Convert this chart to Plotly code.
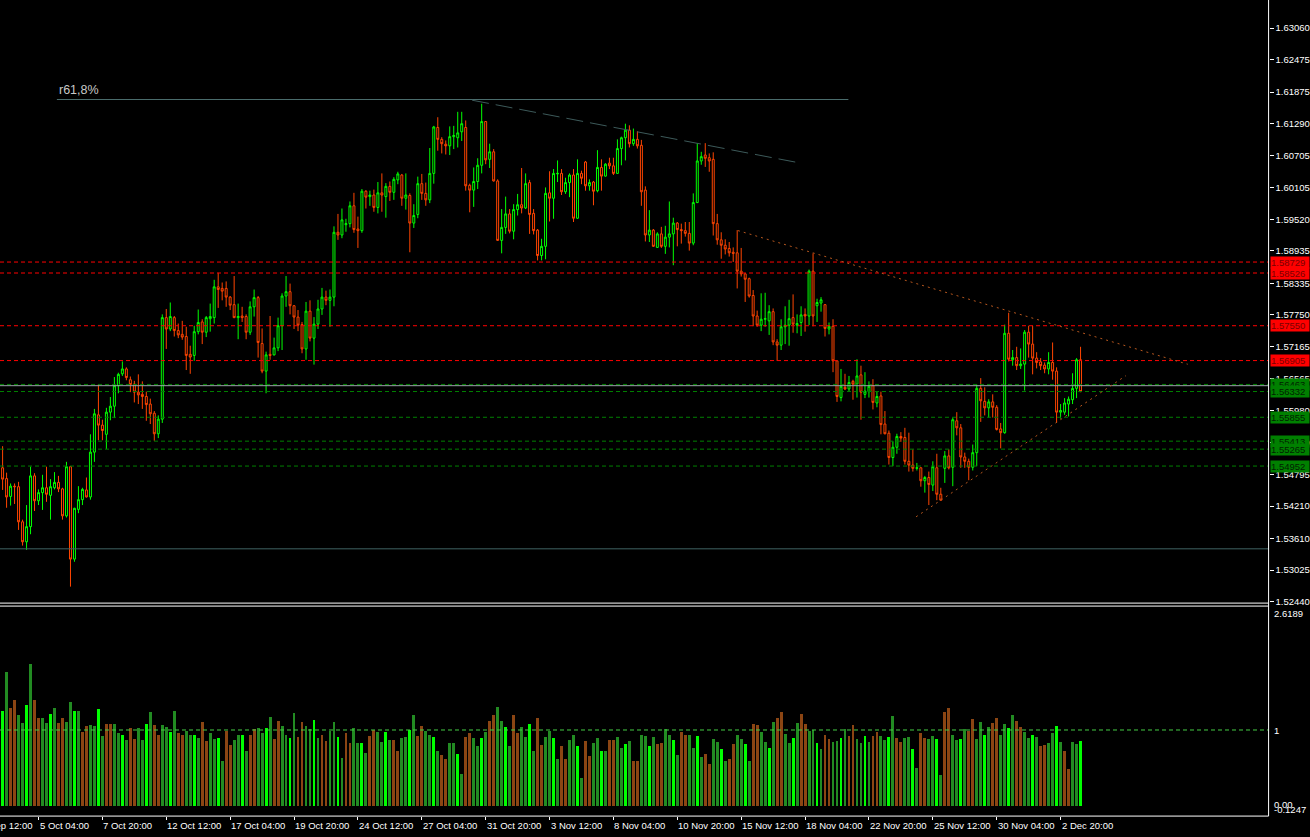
import plotly.graph_objects as go

# ---- H4 candles (index 0 = first bar at the left edge) ----
opens = [
    1.5492, 1.5472, 1.5439, 1.5458, 1.5457, 1.5392, 1.5355, 1.5383, 1.5477, 1.5431,
    1.5446, 1.5455, 1.5441, 1.5455, 1.5465, 1.5453, 1.5403, 1.5494, 1.5323, 1.5415,
    1.5433, 1.5451, 1.5438, 1.5521, 1.5590, 1.5571, 1.5554, 1.5595, 1.5606, 1.5644,
    1.5666, 1.5675, 1.5655, 1.5647, 1.5632, 1.5628, 1.5624, 1.5610, 1.5593, 1.5555,
    1.5582, 1.5770, 1.5749, 1.5770, 1.5746, 1.5739, 1.5735, 1.5702, 1.5700, 1.5744,
    1.5762, 1.5743, 1.5768, 1.5770, 1.5827, 1.5824, 1.5824, 1.5808, 1.5794, 1.5770,
    1.5773, 1.5772, 1.5743, 1.5790, 1.5807, 1.5722, 1.5671, 1.5702, 1.5701, 1.5714,
    1.5755, 1.5810, 1.5818, 1.5792, 1.5771, 1.5757, 1.5712, 1.5782, 1.5732, 1.5758,
    1.5786, 1.5808, 1.5802, 1.5808, 1.5928, 1.5923, 1.5942, 1.5944, 1.5977, 1.5934,
    1.5931, 1.6004, 1.5994, 1.5997, 1.5974, 1.6001, 1.5994, 1.6013, 1.6002, 1.6025,
    1.6034, 1.5991, 1.5996, 1.5945, 1.5961, 1.6018, 1.6000, 1.5988, 1.6037, 1.6122,
    1.6100, 1.6091, 1.6088, 1.6105, 1.6103, 1.6114, 1.6122, 1.6015, 1.6006, 1.6022,
    1.6052, 1.6133, 1.6063, 1.6077, 1.6023, 1.5913, 1.5937, 1.5962, 1.5930, 1.5970,
    1.5979, 1.5973, 1.6020, 1.5963, 1.5932, 1.5885, 1.5902, 1.6001, 1.5991, 1.6036,
    1.6037, 1.6003, 1.6020, 1.6034, 1.5954, 1.6037, 1.6058, 1.6014, 1.6021, 1.6005,
    1.6048, 1.6032, 1.6056, 1.6051, 1.6037, 1.6083, 1.6103, 1.6117, 1.6092, 1.6100,
    1.6089, 1.6006, 1.5923, 1.5932, 1.5900, 1.5925, 1.5902, 1.5919, 1.5925, 1.5945,
    1.5933, 1.5931, 1.5926, 1.5908, 1.5983, 1.6060, 1.6071, 1.6066, 1.6063, 1.5944,
    1.5914, 1.5904, 1.5898, 1.5891, 1.5890, 1.5856, 1.5851, 1.5842, 1.5811, 1.5773,
    1.5756, 1.5767, 1.5764, 1.5781, 1.5725, 1.5719, 1.5753, 1.5756, 1.5770, 1.5756,
    1.5761, 1.5776, 1.5773, 1.5856, 1.5792, 1.5797, 1.5794, 1.5749, 1.5754, 1.5690,
    1.5622, 1.5641, 1.5638, 1.5652, 1.5647, 1.5664, 1.5628, 1.5633, 1.5644, 1.5612,
    1.5625, 1.5573, 1.5556, 1.5511, 1.5530, 1.5550, 1.5548, 1.5504, 1.5497, 1.5491,
    1.5492, 1.5468, 1.5474, 1.5460, 1.5492, 1.5443, 1.5491, 1.5514, 1.5493, 1.5579,
    1.5566, 1.5512, 1.5504, 1.5493, 1.5520, 1.5639, 1.5615, 1.5603, 1.5614, 1.5604,
    1.5564, 1.5557, 1.5741, 1.5692, 1.5696, 1.5681, 1.5684, 1.5743, 1.5721, 1.5695,
    1.5688, 1.5682, 1.5675, 1.5687, 1.5671, 1.5595, 1.5595, 1.5610, 1.5618, 1.5639,
    1.5692,
]
highs = [
    1.5532, 1.5483, 1.5463, 1.5463, 1.5466, 1.5396, 1.5423, 1.5494, 1.5482, 1.5452,
    1.5479, 1.5494, 1.5471, 1.5484, 1.5477, 1.5455, 1.5503, 1.5495, 1.5418, 1.5458,
    1.5455, 1.5474, 1.5554, 1.5601, 1.5647, 1.5581, 1.5603, 1.5623, 1.5660, 1.5668,
    1.5689, 1.5678, 1.5661, 1.5653, 1.5665, 1.5652, 1.5633, 1.5620, 1.5597, 1.5589,
    1.5776, 1.5786, 1.5798, 1.5773, 1.5759, 1.5764, 1.5753, 1.5718, 1.5755, 1.5785,
    1.5767, 1.5773, 1.5796, 1.5840, 1.5853, 1.5835, 1.5837, 1.5810, 1.5847, 1.5796,
    1.5790, 1.5776, 1.5800, 1.5822, 1.5810, 1.5750, 1.5707, 1.5773, 1.5733, 1.5770,
    1.5815, 1.5847, 1.5833, 1.5793, 1.5784, 1.5762, 1.5799, 1.5802, 1.5771, 1.5803,
    1.5825, 1.5820, 1.5822, 1.5939, 1.5962, 1.5972, 1.5953, 1.5985, 1.6001, 1.5957,
    1.6008, 1.6006, 1.6005, 1.6007, 1.6021, 1.6037, 1.6019, 1.6022, 1.6030, 1.6040,
    1.6036, 1.6037, 1.6000, 1.5980, 1.6031, 1.6036, 1.6020, 1.6084, 1.6125, 1.6141,
    1.6104, 1.6098, 1.6124, 1.6125, 1.6151, 1.6151, 1.6135, 1.6018, 1.6048, 1.6065,
    1.6166, 1.6134, 1.6092, 1.6082, 1.6026, 1.5971, 1.5994, 1.5971, 1.5980, 1.5999,
    1.6047, 1.6037, 1.6025, 1.5971, 1.5934, 1.5916, 1.6011, 1.6041, 1.6045, 1.6061,
    1.6045, 1.6029, 1.6037, 1.6045, 1.6063, 1.6042, 1.6060, 1.6026, 1.6023, 1.6080,
    1.6063, 1.6056, 1.6066, 1.6066, 1.6100, 1.6105, 1.6129, 1.6126, 1.6120, 1.6115,
    1.6099, 1.6013, 1.5969, 1.5934, 1.5928, 1.5938, 1.5940, 1.5985, 1.5955, 1.5947,
    1.5944, 1.5947, 1.5947, 1.6000, 1.6093, 1.6077, 1.6093, 1.6074, 1.6076, 1.5962,
    1.5928, 1.5915, 1.5910, 1.5900, 1.5932, 1.5899, 1.5852, 1.5844, 1.5821, 1.5783,
    1.5815, 1.5816, 1.5793, 1.5787, 1.5730, 1.5767, 1.5791, 1.5803, 1.5813, 1.5776,
    1.5791, 1.5787, 1.5859, 1.5889, 1.5805, 1.5808, 1.5794, 1.5761, 1.5767, 1.5690,
    1.5675, 1.5666, 1.5662, 1.5655, 1.5693, 1.5681, 1.5669, 1.5652, 1.5656, 1.5633,
    1.5633, 1.5597, 1.5561, 1.5541, 1.5555, 1.5558, 1.5566, 1.5557, 1.5526, 1.5501,
    1.5493, 1.5477, 1.5485, 1.5504, 1.5518, 1.5455, 1.5523, 1.5526, 1.5585, 1.5595,
    1.5573, 1.5520, 1.5509, 1.5535, 1.5646, 1.5658, 1.5641, 1.5619, 1.5628, 1.5608,
    1.5575, 1.5757, 1.5779, 1.5710, 1.5716, 1.5713, 1.5747, 1.5755, 1.5755, 1.5706,
    1.5695, 1.5687, 1.5706, 1.5724, 1.5678, 1.5610, 1.5621, 1.5624, 1.5667, 1.5695,
    1.5716,
]
lows = [
    1.5451, 1.5418, 1.5422, 1.5425, 1.5377, 1.5348, 1.5340, 1.5369, 1.5412, 1.5423,
    1.5414, 1.5429, 1.5396, 1.5452, 1.5447, 1.5396, 1.5400, 1.5272, 1.5318, 1.5408,
    1.5423, 1.5437, 1.5433, 1.5503, 1.5543, 1.5543, 1.5527, 1.5580, 1.5584, 1.5630,
    1.5662, 1.5654, 1.5632, 1.5613, 1.5610, 1.5601, 1.5579, 1.5573, 1.5542, 1.5547,
    1.5575, 1.5712, 1.5745, 1.5735, 1.5732, 1.5729, 1.5673, 1.5666, 1.5690, 1.5739,
    1.5721, 1.5734, 1.5744, 1.5759, 1.5788, 1.5802, 1.5790, 1.5784, 1.5769, 1.5730,
    1.5762, 1.5730, 1.5738, 1.5772, 1.5696, 1.5667, 1.5630, 1.5692, 1.5700, 1.5708,
    1.5710, 1.5790, 1.5776, 1.5749, 1.5745, 1.5704, 1.5692, 1.5726, 1.5683, 1.5749,
    1.5775, 1.5793, 1.5753, 1.5791, 1.5914, 1.5917, 1.5929, 1.5937, 1.5927, 1.5899,
    1.5927, 1.5972, 1.5977, 1.5966, 1.5963, 1.5966, 1.5955, 1.5986, 1.5988, 1.6017,
    1.5977, 1.5970, 1.5891, 1.5936, 1.5954, 1.5988, 1.5977, 1.5982, 1.6018, 1.6079,
    1.6074, 1.6072, 1.6071, 1.6082, 1.6085, 1.6097, 1.6005, 1.5965, 1.5975, 1.6008,
    1.6037, 1.6054, 1.6047, 1.6022, 1.5912, 1.5889, 1.5925, 1.5926, 1.5915, 1.5959,
    1.5963, 1.5971, 1.5925, 1.5924, 1.5876, 1.5876, 1.5878, 1.5948, 1.5953, 1.6021,
    1.5997, 1.5999, 1.5993, 1.5947, 1.5953, 1.6017, 1.6005, 1.6005, 1.5978, 1.6002,
    1.6005, 1.6031, 1.6045, 1.6034, 1.6036, 1.6052, 1.6061, 1.6085, 1.6088, 1.6083,
    1.5977, 1.5911, 1.5910, 1.5901, 1.5899, 1.5899, 1.5888, 1.5900, 1.5867, 1.5902,
    1.5907, 1.5920, 1.5894, 1.5904, 1.5982, 1.6053, 1.6049, 1.6040, 1.5922, 1.5905,
    1.5879, 1.5887, 1.5883, 1.5873, 1.5824, 1.5846, 1.5799, 1.5807, 1.5754, 1.5753,
    1.5745, 1.5753, 1.5738, 1.5719, 1.5690, 1.5710, 1.5721, 1.5718, 1.5742, 1.5741,
    1.5736, 1.5744, 1.5756, 1.5754, 1.5762, 1.5781, 1.5735, 1.5739, 1.5669, 1.5614,
    1.5615, 1.5636, 1.5634, 1.5618, 1.5622, 1.5581, 1.5621, 1.5622, 1.5600, 1.5604,
    1.5554, 1.5554, 1.5498, 1.5495, 1.5518, 1.5540, 1.5498, 1.5485, 1.5485, 1.5487,
    1.5457, 1.5446, 1.5423, 1.5449, 1.5432, 1.5431, 1.5464, 1.5489, 1.5458, 1.5552,
    1.5492, 1.5492, 1.5469, 1.5487, 1.5495, 1.5577, 1.5589, 1.5585, 1.5585, 1.5561,
    1.5528, 1.5555, 1.5689, 1.5681, 1.5673, 1.5675, 1.5635, 1.5696, 1.5665, 1.5676,
    1.5673, 1.5667, 1.5665, 1.5655, 1.5575, 1.5583, 1.5590, 1.5587, 1.5610, 1.5621,
    1.5632,
]
closes = [
    1.5471, 1.5438, 1.5458, 1.5457, 1.5392, 1.5355, 1.5383, 1.5477, 1.5431, 1.5446,
    1.5455, 1.5443, 1.5457, 1.5465, 1.5453, 1.5403, 1.5494, 1.5323, 1.5417, 1.5433,
    1.5452, 1.5438, 1.5521, 1.5592, 1.5571, 1.5561, 1.5595, 1.5606, 1.5644, 1.5665,
    1.5675, 1.5659, 1.5646, 1.5632, 1.5627, 1.5624, 1.5609, 1.5592, 1.5555, 1.5582,
    1.5770, 1.5749, 1.5772, 1.5746, 1.5738, 1.5734, 1.5700, 1.5697, 1.5744, 1.5761,
    1.5743, 1.5770, 1.5772, 1.5827, 1.5822, 1.5819, 1.5808, 1.5793, 1.5770, 1.5772,
    1.5770, 1.5743, 1.5790, 1.5807, 1.5724, 1.5671, 1.5701, 1.5700, 1.5714, 1.5755,
    1.5810, 1.5818, 1.5792, 1.5771, 1.5756, 1.5712, 1.5782, 1.5732, 1.5758, 1.5786,
    1.5808, 1.5802, 1.5808, 1.5928, 1.5923, 1.5951, 1.5944, 1.5977, 1.5933, 1.5931,
    1.6004, 1.5993, 1.5997, 1.5974, 1.6001, 1.5997, 1.6013, 1.6002, 1.6026, 1.6036,
    1.5991, 1.5997, 1.5945, 1.5959, 1.6018, 1.6000, 1.5988, 1.6037, 1.6123, 1.6100,
    1.6092, 1.6088, 1.6105, 1.6107, 1.6112, 1.6129, 1.6014, 1.6006, 1.6022, 1.6052,
    1.6133, 1.6062, 1.6077, 1.6023, 1.5913, 1.5937, 1.5962, 1.5930, 1.5970, 1.5979,
    1.5973, 1.6018, 1.5961, 1.5931, 1.5885, 1.5902, 1.6000, 1.5991, 1.6037, 1.6037,
    1.6003, 1.6020, 1.6034, 1.5954, 1.6037, 1.6028, 1.6014, 1.6020, 1.6004, 1.6048,
    1.6032, 1.6054, 1.6051, 1.6037, 1.6083, 1.6103, 1.6117, 1.6092, 1.6100, 1.6088,
    1.6003, 1.5923, 1.5932, 1.5902, 1.5925, 1.5902, 1.5919, 1.5925, 1.5945, 1.5933,
    1.5931, 1.5926, 1.5908, 1.5983, 1.6060, 1.6068, 1.6065, 1.6060, 1.5944, 1.5914,
    1.5904, 1.5897, 1.5890, 1.5889, 1.5856, 1.5851, 1.5841, 1.5810, 1.5773, 1.5756,
    1.5767, 1.5768, 1.5781, 1.5725, 1.5719, 1.5753, 1.5756, 1.5768, 1.5758, 1.5759,
    1.5775, 1.5773, 1.5856, 1.5773, 1.5798, 1.5803, 1.5750, 1.5754, 1.5690, 1.5624,
    1.5643, 1.5638, 1.5650, 1.5647, 1.5662, 1.5632, 1.5634, 1.5643, 1.5613, 1.5624,
    1.5572, 1.5555, 1.5511, 1.5530, 1.5550, 1.5547, 1.5504, 1.5497, 1.5491, 1.5492,
    1.5468, 1.5474, 1.5461, 1.5494, 1.5443, 1.5432, 1.5514, 1.5492, 1.5581, 1.5566,
    1.5512, 1.5504, 1.5493, 1.5520, 1.5639, 1.5616, 1.5603, 1.5614, 1.5604, 1.5563,
    1.5557, 1.5741, 1.5693, 1.5696, 1.5681, 1.5684, 1.5743, 1.5721, 1.5695, 1.5687,
    1.5681, 1.5675, 1.5687, 1.5671, 1.5595, 1.5598, 1.5612, 1.5619, 1.5639, 1.5692,
    1.5633,
]

# ---- lower indicator (histogram around 1.0) ----
ind_values = [
    1.25, 1.76, 1.29, 1.39, 1.19, 1.09, 1.33, 1.86, 1.39, 1.15,
    1.15, 1.09, 1.21, 1.29, 1.09, 1.15, 1.10, 1.36, 1.25, 1.25,
    0.97, 1.05, 1.06, 1.05, 1.27, 0.92, 1.08, 1.08, 1.08, 0.96,
    0.93, 0.87, 1.02, 0.88, 1.02, 0.87, 1.08, 1.23, 1.06, 0.93,
    1.06, 1.04, 0.97, 1.25, 0.96, 0.94, 0.98, 0.94, 0.94, 0.89,
    1.10, 0.85, 0.96, 0.88, 0.89, 0.60, 0.98, 0.80, 0.87, 0.93,
    0.93, 0.73, 0.93, 1.01, 1.02, 0.96, 1.02, 1.17, 0.88, 1.12,
    1.05, 0.94, 0.89, 1.22, 0.91, 1.10, 1.05, 1.01, 1.13, 0.89,
    0.94, 0.85, 0.98, 1.10, 0.91, 0.63, 0.96, 0.83, 1.02, 0.83,
    0.83, 0.70, 0.92, 1.00, 0.97, 0.84, 0.97, 0.87, 0.87, 0.72,
    0.89, 0.91, 1.00, 1.19, 0.92, 1.05, 0.98, 0.94, 0.91, 0.72,
    0.67, 0.62, 0.83, 0.83, 0.68, 0.43, 0.91, 0.96, 0.89, 0.79,
    0.89, 0.97, 1.12, 1.19, 1.30, 1.12, 1.04, 0.79, 1.19, 0.96,
    1.04, 0.91, 1.08, 0.73, 1.15, 0.80, 0.91, 0.98, 0.89, 0.62,
    0.79, 0.62, 0.87, 0.94, 0.79, 0.37, 0.85, 0.66, 0.83, 0.89,
    0.73, 0.72, 0.87, 0.87, 0.91, 0.77, 0.81, 0.85, 0.60, 0.60,
    0.93, 0.92, 0.79, 0.91, 0.81, 0.83, 1.01, 0.93, 0.87, 0.67,
    0.97, 0.93, 0.93, 0.77, 0.92, 0.64, 0.68, 0.55, 0.88, 0.84,
    0.75, 0.60, 0.62, 0.81, 0.93, 0.88, 0.81, 0.60, 1.08, 1.06,
    0.97, 0.84, 0.77, 1.10, 1.15, 1.23, 0.95, 0.83, 0.89, 1.09,
    1.21, 1.08, 0.98, 1.00, 0.83, 0.75, 0.94, 0.88, 0.84, 0.85,
    0.89, 1.01, 0.92, 1.06, 0.88, 0.83, 0.92, 0.84, 0.92, 0.97,
    0.92, 0.87, 0.91, 1.18, 0.89, 0.84, 0.89, 0.91, 0.75, 0.50,
    0.96, 0.89, 0.88, 0.92, 0.88, 0.41, 1.23, 1.29, 0.94, 0.87,
    0.88, 1.01, 0.98, 1.14, 0.88, 1.10, 0.94, 1.04, 1.09, 1.15,
    0.93, 1.08, 1.02, 1.19, 1.12, 1.04, 0.97, 0.89, 0.93, 0.91,
    0.79, 0.80, 0.83, 0.96, 1.05, 0.84, 0.72, 0.49, 0.84, 0.81,
    0.85,
]
# L = lime, G = dark green, B = brown
ind_codes = (
    "LGBBGGLGBBGGLGBBGGLGBBGGLGBBGG"
    "LGBBGGLGBBGGLGBBGGLGBBGGLGBBGG"
    "LGBBGGLGBBGGLGBBGGLGBBGGLGBBGG"
    "LGBBGGLGBBGGLGBBGGLGBBGGLGBBGG"
    "LGBBGGLGBBGGLGBBGGLGBBGGLGBBGG"
    "LGBBGGLGBBGGLGBBGGLGBBGGLGBBGG"
    "LGBBGGLGBBGGLGBBGGLGBBGGLGBBGG"
    "LGBBGGLGBBGGLGBBGGLGBBGGLGBBGG"
    "LGBBGGLGBBGGLGBBGGLGBBGGLGBBGG"
    "L"
)

# ---- axis labels ----
price_ticks = [1.63060, 1.62475, 1.61875, 1.61290, 1.60705, 1.60105, 1.59520,
               1.58935, 1.58335, 1.57750, 1.57165, 1.56565, 1.55980, 1.55380,
               1.54795, 1.54210, 1.53610, 1.53025, 1.52440]
date_idx = [-7, 9, 25, 41, 57, 73, 89, 105, 121, 137, 153, 169, 185, 201, 217, 233, 249, 265]
date_text = ["30 Sep 12:00", "5 Oct 04:00", "7 Oct 20:00", "12 Oct 12:00", "17 Oct 04:00",
             "19 Oct 20:00", "24 Oct 12:00", "27 Oct 04:00", "31 Oct 20:00", "3 Nov 12:00",
             "8 Nov 04:00", "10 Nov 20:00", "15 Nov 12:00", "18 Nov 04:00", "22 Nov 20:00",
             "25 Nov 12:00", "30 Nov 04:00", "2 Dec 20:00"]

# ---- drawn objects ----
red_levels = [1.58729, 1.58526, 1.57550, 1.56905]
green_levels = [1.56463, 1.56332, 1.55855, 1.55413, 1.55265, 1.54952]
gray_levels = [1.5644, 1.5342]
fibo_x = [13.6, 211.85]
fibo_y = 1.61738
gray_trend_x = [117.6, 199.35]
gray_trend_y = [1.61725, 1.60568]
res_trend_x = [184.2, 296.85]
res_trend_y = [1.59311, 1.56837]
sup_trend_x = [228.8, 281.35]
sup_trend_y = [1.54012, 1.56625]

W, H = 1310, 837
AX_X = 1271.5 / W            # right price axis position
x_range = [-0.65, 317.1]


def py(px):
    return 1 - px / H


def bar_to_paper(i):
    # bar index -> paper x (labels may sit left of the visible range)
    return AX_X * (i - x_range[0]) / (x_range[1] - x_range[0])


FONT = "Liberation Sans"
idx = list(range(len(opens)))
col_map = {"L": "#00FF00", "G": "#228B22", "B": "#8B4513"}

fig = go.Figure()

fig.add_trace(go.Candlestick(
    x=idx, open=opens, high=highs, low=lows, close=closes,
    increasing=dict(line=dict(color="#00FF00", width=1), fillcolor="#000000"),
    decreasing=dict(line=dict(color="#FF4500", width=1), fillcolor="#000000"),
    whiskerwidth=0, xaxis="x", yaxis="y", showlegend=False, hoverinfo="skip",
))

fig.add_trace(go.Bar(
    x=idx, y=ind_values, marker_color=[col_map[c] for c in ind_codes],
    marker_line_width=0, width=0.72, xaxis="x2", yaxis="y2",
    showlegend=False, hoverinfo="skip",
))

shapes = []
# horizontal levels
for v in red_levels:
    shapes.append(dict(type="line", xref="paper", yref="y", x0=0, x1=AX_X, y0=v, y1=v,
                       line=dict(color="#FF0000", width=1, dash="4px,3px")))
for v in green_levels:
    shapes.append(dict(type="line", xref="paper", yref="y", x0=0, x1=AX_X, y0=v, y1=v,
                       line=dict(color="#008000", width=1, dash="4px,3px")))
shapes.append(dict(type="line", xref="paper", yref="y", x0=0, x1=AX_X,
                   y0=gray_levels[0], y1=gray_levels[0], line=dict(color="#9AA4A8", width=1)))
shapes.append(dict(type="line", xref="paper", yref="y", x0=0, x1=AX_X,
                   y0=gray_levels[1], y1=gray_levels[1], line=dict(color="#3F6262", width=1)))
# fibo level + trend lines
shapes.append(dict(type="line", xref="x", yref="y", x0=fibo_x[0], x1=fibo_x[1],
                   y0=fibo_y, y1=fibo_y, line=dict(color="#4A6C6C", width=1)))
shapes.append(dict(type="line", xref="x", yref="y", x0=gray_trend_x[0], x1=gray_trend_x[1],
                   y0=gray_trend_y[0], y1=gray_trend_y[1],
                   line=dict(color="#3D5A5A", width=1, dash="17px,7px")))
shapes.append(dict(type="line", xref="x", yref="y", x0=res_trend_x[0], x1=res_trend_x[1],
                   y0=res_trend_y[0], y1=res_trend_y[1],
                   line=dict(color="#B5561E", width=1, dash="2px,4px")))
shapes.append(dict(type="line", xref="x", yref="y", x0=sup_trend_x[0], x1=sup_trend_x[1],
                   y0=sup_trend_y[0], y1=sup_trend_y[1],
                   line=dict(color="#B5561E", width=1, dash="2px,4px")))
# indicator level 1
shapes.append(dict(type="line", xref="paper", yref="y2", x0=0, x1=AX_X, y0=1, y1=1,
                   line=dict(color="#44CC44", width=1, dash="4px,3px")))
# frame lines
for ypx in (606, 609, 820):
    shapes.append(dict(type="line", xref="paper", yref="paper", x0=0, x1=AX_X,
                       y0=py(ypx), y1=py(ypx), line=dict(color="#FFFFFF", width=1)))
shapes.append(dict(type="line", xref="paper", yref="paper", x0=AX_X, x1=AX_X,
                   y0=py(820), y1=1, line=dict(color="#FFFFFF", width=1)))

annotations = []
annotations.append(dict(x=fibo_x[0], y=fibo_y, xref="x", yref="y", text="r61,8%",
                        showarrow=False, xanchor="left", yanchor="bottom", yshift=1,
                        font=dict(family=FONT, size=12.5, color="#C8C8C8")))
for v in red_levels:
    annotations.append(dict(x=AX_X + 1 / W, y=v, xref="paper", yref="y", text=f"{v:.5f}",
                            showarrow=False, xanchor="left", yanchor="middle",
                            bgcolor="#FF0000", width=38, height=11, borderpad=0, align="left",
                            font=dict(family=FONT, size=9.5, color="#7A0000")))
for v in green_levels:
    annotations.append(dict(x=AX_X + 1 / W, y=v, xref="paper", yref="y", text=f"{v:.5f}",
                            showarrow=False, xanchor="left", yanchor="middle",
                            bgcolor="#008000", width=38, height=11, borderpad=0, align="left",
                            font=dict(family=FONT, size=9.5, color="#002200")))
for i, t in zip(date_idx, date_text):
    annotations.append(dict(x=bar_to_paper(i), y=py(829), xref="paper", yref="paper", text=t,
                            showarrow=False, xanchor="left", yanchor="middle", xshift=-1,
                            font=dict(family=FONT, size=9.5, color="#FFFFFF")))
for t, ypx in (("2.6189", 616), ("1", 734), ("0.00", 808), ("-0.1247", 813)):
    annotations.append(dict(x=1275 / W, y=py(ypx), xref="paper", yref="paper", text=t,
                            showarrow=False, xanchor="left", yanchor="middle",
                            font=dict(family=FONT, size=9.5, color="#FFFFFF")))

fig.update_layout(
    width=W, height=H,
    margin=dict(l=0, r=0, t=0, b=0),
    paper_bgcolor="#000000", plot_bgcolor="#000000",
    shapes=shapes, annotations=annotations,
    bargap=0,
    xaxis=dict(domain=[0, AX_X], range=x_range, anchor="y", showticklabels=False,
               showgrid=False, zeroline=False, showline=False, rangeslider=dict(visible=False)),
    yaxis=dict(domain=[py(606), 1], range=[1.52415, 1.63580], side="right", anchor="x",
               tickvals=price_ticks, ticktext=[f"{v:.5f}" for v in price_ticks],
               ticks="outside", ticklen=4, tickcolor="#FFFFFF",
               tickfont=dict(family=FONT, size=9.5, color="#FFFFFF"),
               showgrid=False, zeroline=False, showline=False),
    xaxis2=dict(domain=[0, AX_X], range=x_range, anchor="y2", matches="x",
                showticklabels=False, tickvals=date_idx, ticks="outside", ticklen=3,
                tickcolor="#FFFFFF", showgrid=False, zeroline=False, showline=False),
    yaxis2=dict(domain=[py(820), py(609)], range=[-0.1247, 2.6189], anchor="x2",
                showticklabels=False, showgrid=False, zeroline=False, showline=False),
)

fig.write_html("out.html", config={"displayModeBar": False},
               post_script="document.body.style.margin='0';document.body.style.overflow='hidden';")
